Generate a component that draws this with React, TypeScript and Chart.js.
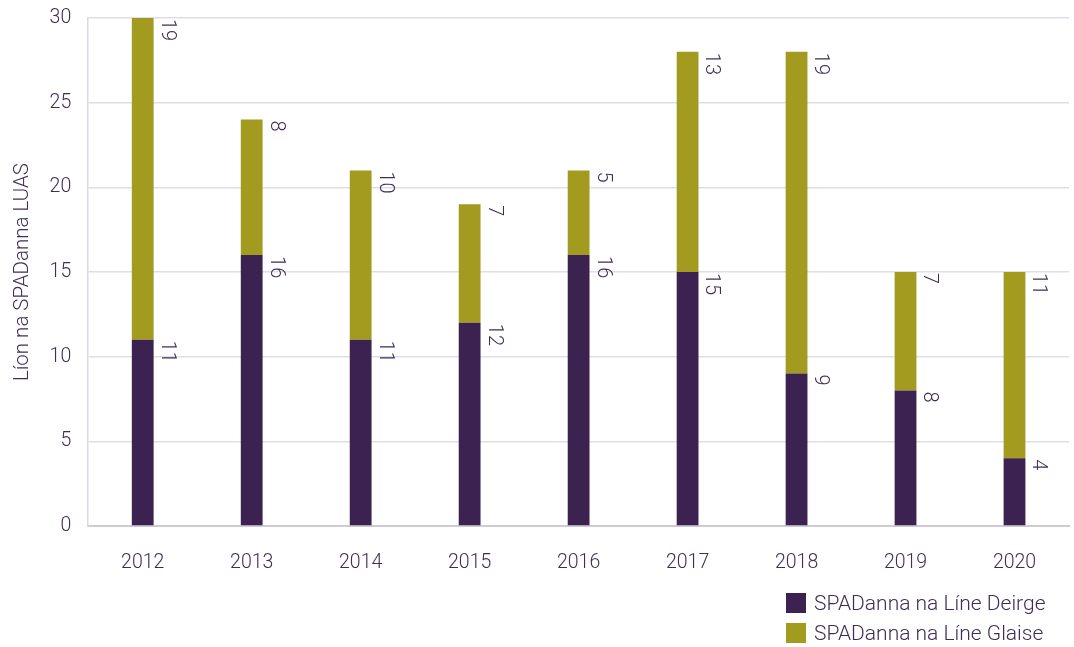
import React, { useEffect, useRef } from "react";
import { Chart, registerables } from "chart.js";

Chart.register(...registerables);

const categories = ["2012", "2013", "2014", "2015", "2016", "2017", "2018", "2019", "2020"];
const redLine = [11, 16, 11, 12, 16, 15, 9, 8, 4];
const greenLine = [19, 8, 10, 7, 5, 13, 19, 7, 11];
const seriesNames = ["SPADanna na Líne Deirge", "SPADanna na Líne Glaise"];
const yTitle = "Líon na SPADanna LUAS";

const PURPLE = "#3b2250";
const OLIVE = "#a39b1f";
const TEXT = "#3f2d58";
const FONT = "Roboto, 'Open Sans', sans-serif";

const valueLabels = {
  id: "valueLabels",
  afterDatasetsDraw(chart: any) {
    const ctx = chart.ctx;
    ctx.save();
    ctx.fillStyle = TEXT;
    ctx.font = `300 20px ${FONT}`;
    ctx.textAlign = "left";
    ctx.textBaseline = "bottom";
    chart.data.datasets.forEach((ds: any, di: number) => {
      const meta = chart.getDatasetMeta(di);
      meta.data.forEach((bar: any, i: number) => {
        const v = ds.data[i];
        const props = bar.getProps(["x", "y", "width"], true);
        ctx.save();
        ctx.translate(props.x + props.width / 2 + 3, props.y + 1);
        ctx.rotate(Math.PI / 2);
        ctx.fillText(String(v), 0, 0);
        ctx.restore();
      });
    });
    ctx.restore();
  },
};

const bottomLegend = {
  id: "bottomLegend",
  afterDraw(chart: any) {
    const ctx = chart.ctx;
    ctx.save();
    ctx.font = `300 21px ${FONT}`;
    ctx.textAlign = "left";
    ctx.textBaseline = "middle";
    const x0 = 786;
    const y0 = 603;
    chart.data.datasets.forEach((ds: any, i: number) => {
      const y = y0 + i * 30;
      ctx.fillStyle = ds.backgroundColor;
      ctx.fillRect(x0, y - 10, 20, 20);
      ctx.fillStyle = TEXT;
      ctx.fillText(ds.label, x0 + 28, y + 1.5);
    });
    ctx.restore();
  },
};

export default function App() {
  const ref = useRef<HTMLCanvasElement | null>(null);
  useEffect(() => {
    if (!ref.current) return;
    const chart = new Chart(ref.current, {
      type: "bar",
      data: {
        labels: categories,
        datasets: [
          { label: seriesNames[0], data: redLine, backgroundColor: PURPLE, barPercentage: 0.2, categoryPercentage: 1 },
          { label: seriesNames[1], data: greenLine, backgroundColor: OLIVE, barPercentage: 0.2, categoryPercentage: 1 },
        ],
      },
      options: {
        animation: false,
        responsive: false,
        maintainAspectRatio: false,
        layout: { padding: { top: 18, right: 5, bottom: 47.6, left: 11 } },
        plugins: {
          legend: { display: false },
          tooltip: { enabled: false },
        },
        scales: {
          x: {
            stacked: true,
            grid: { display: false, drawTicks: false },
            border: { color: "#cfcad8", width: 2 },
            ticks: { color: TEXT, font: { family: FONT, size: 19.5, weight: 300 }, padding: 25 },
          },
          y: {
            stacked: true,
            min: 0,
            max: 30,
            ticks: { stepSize: 5, color: TEXT, font: { family: FONT, size: 19.5, weight: 300 }, padding: 2 },
            grid: { color: "#e0dde6", drawTicks: true, tickLength: 15, tickColor: "rgba(0,0,0,0)", lineWidth: 1.5 },
            border: { color: "#dcd8e2", width: 1.5 },
            title: {
              display: true,
              text: yTitle,
              color: TEXT,
              font: { family: FONT, size: 20.5, weight: 300 },
              padding: { top: 0, bottom: 12 },
            },
          },
        },
      },
      plugins: [valueLabels, bottomLegend],
    });
    return () => chart.destroy();
  }, []);
  return (
    <div style={{ position: "absolute", left: 0, top: 0, width: 1074, height: 647, background: "#fff" }}>
      <canvas ref={ref} width={1074} height={647} style={{ width: 1074, height: 647 }} />
    </div>
  );
}
